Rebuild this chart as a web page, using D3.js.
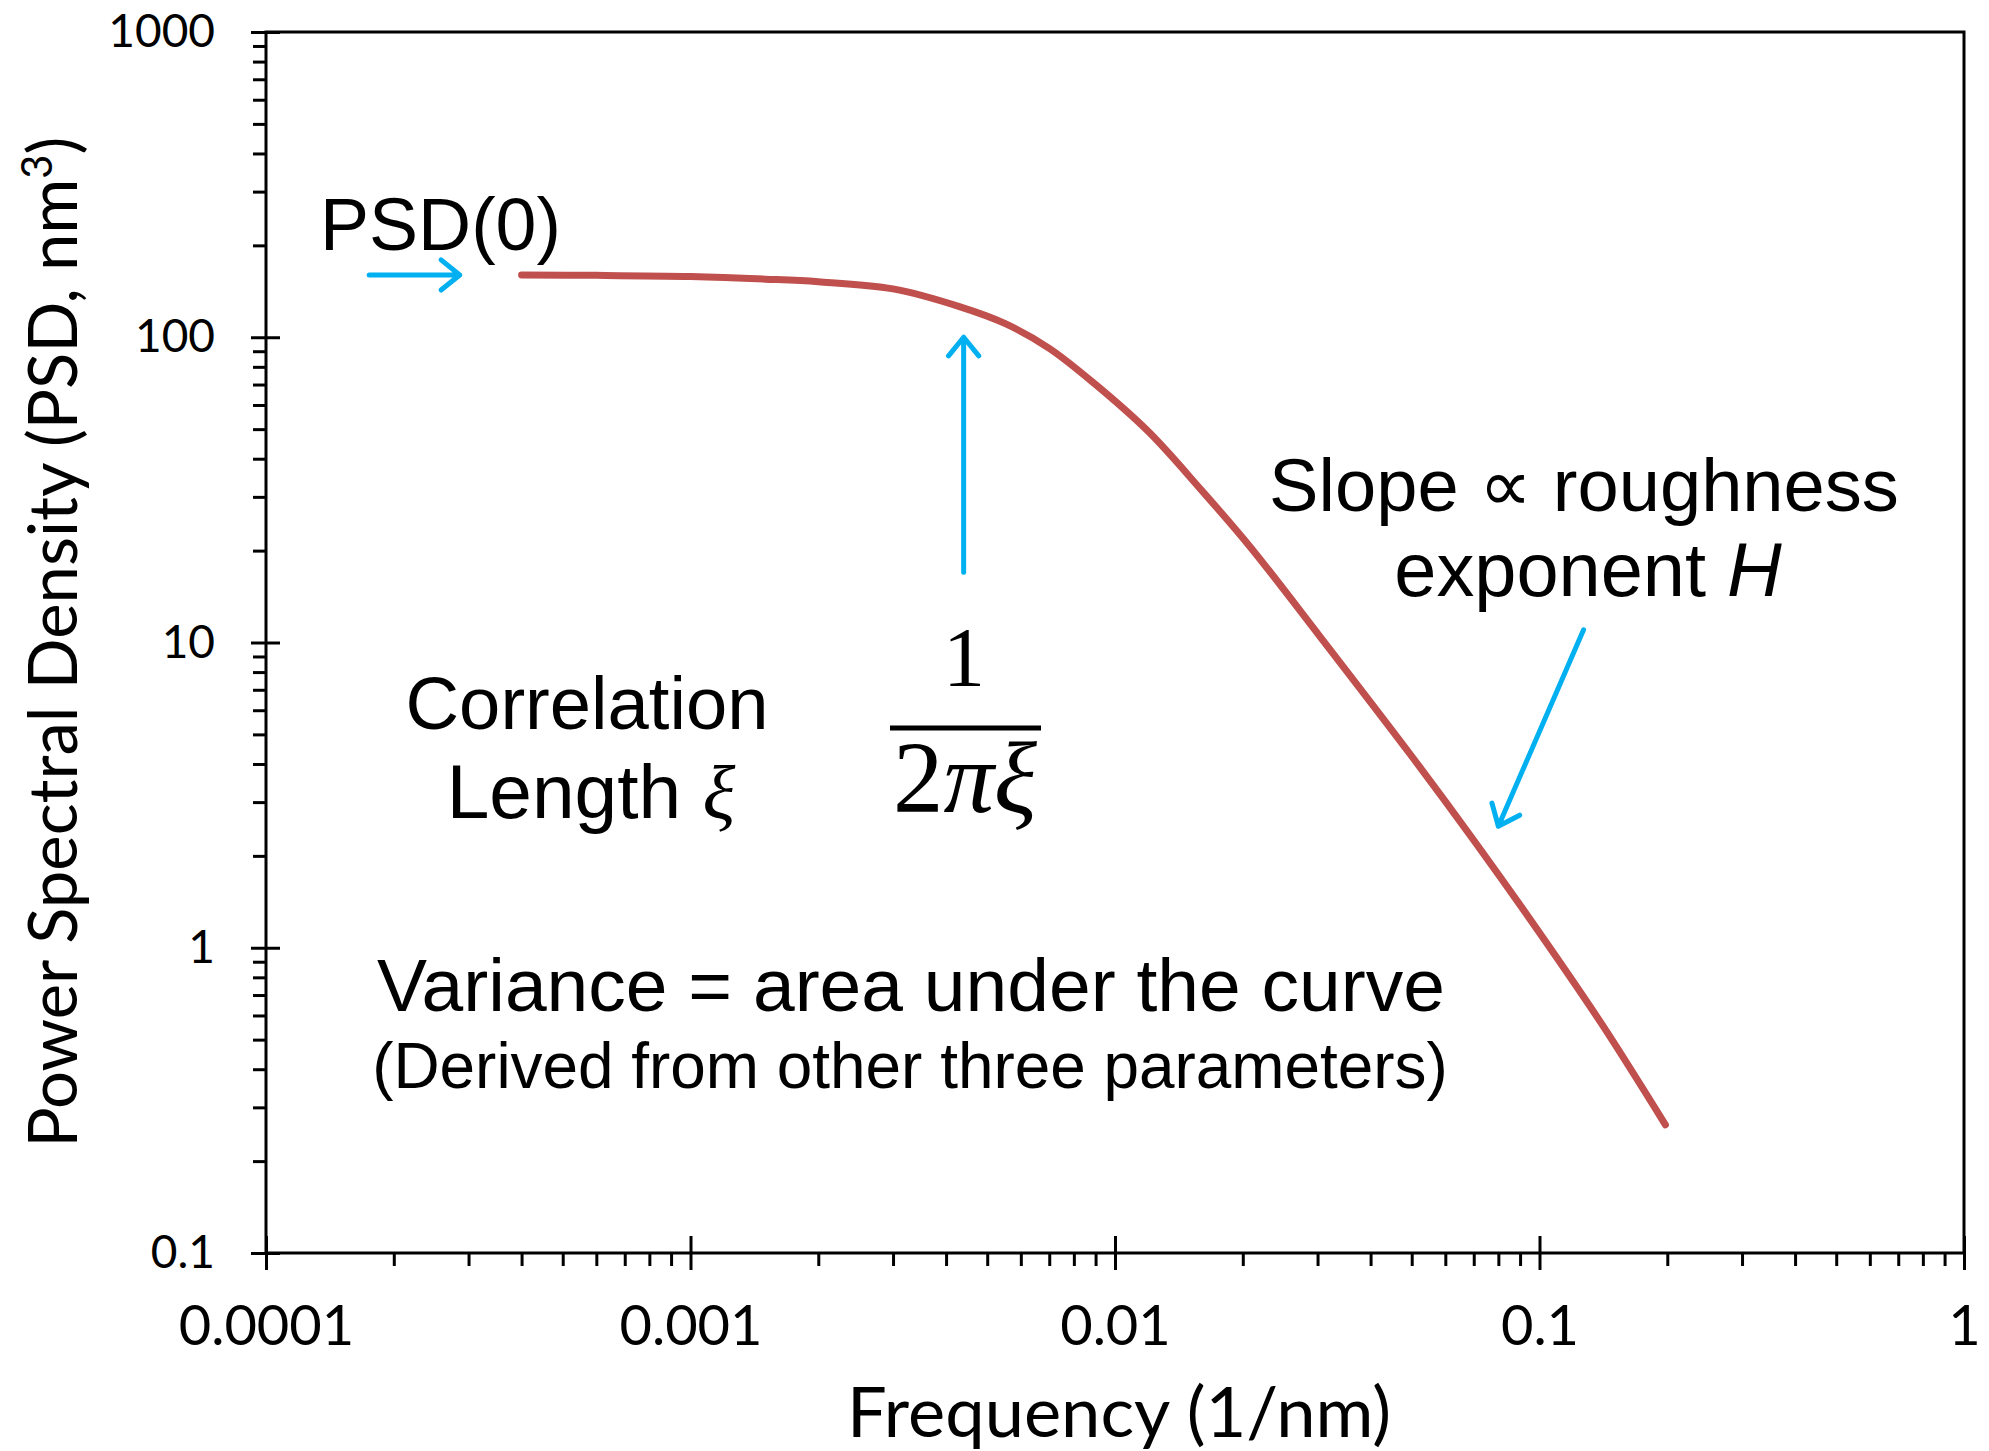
<!DOCTYPE html>
<html>
  <head>
    <meta charset="utf-8" />
    <title>PSD curve</title>
    <script src="https://d3js.org/d3.v7.min.js"></script>
    <style>
      body { margin: 0; background: #fff; }
    </style>
  </head>
  <body>
    <svg id="chart"></svg>
    <script>
      // values
      let freq = [0.0004, 0.0006, 0.001, 0.0015, 0.002, 0.003, 0.0043, 0.0055, 0.007, 0.009,
                  0.012, 0.016, 0.0208, 0.0305, 0.05, 0.07, 0.1, 0.14, 0.198];
      let psd = [160, 159.5, 158, 155, 152, 144, 126, 111, 92, 70,
                 49, 31.5, 20.6, 10.4, 4.24, 2.25, 1.12, 0.564, 0.263];
      let xTicks = [0.0001, 0.001, 0.01, 0.1, 1];
      let xTickLabels = ["0.0001", "0.001", "0.01", "0.1", "1"];
      let yTicks = [0.1, 1, 10, 100, 1000];
      let yTickLabels = ["0.1", "1", "10", "100", "1000"];

      // annotation arrows, in data units [f, psd]
      let psdArrow = [[0.000175, 160], [0.000286, 160]];
      let xiArrow = [[0.0044, 17], [0.0044, 100]];
      let slopeArrow = [[0.127, 11], [0.08, 2.5]];

      let width = 1989;
      let height = 1451;
      let margin = { left: 266, top: 32, right: 25, bottom: 198 };
      let w = width - margin.left - margin.right;
      let h = height - margin.top - margin.bottom;

      let svg = d3.select("#chart").attr("width", width).attr("height", height);
      let g = svg.append("g").attr("transform", `translate(${margin.left},${margin.top})`);

      let x = d3.scaleLog().domain([1e-4, 1]).range([0, w]);
      let y = d3.scaleLog().domain([0.1, 1000]).range([h, 0]);

      function minors(ticks) {
        let out = [];
        for (let i = 0; i < ticks.length - 1; i++)
          for (let k = 2; k < 10; k++) out.push(ticks[i] * k);
        return out;
      }

      function styleAxis(sel) {
        sel.select(".domain").remove();
        sel.selectAll("line").attr("stroke", "#000").attr("stroke-width", 3);
        sel.selectAll("text").attr("font-family", "Lato").attr("fill", "#000");
      }

      // x axis: minor ticks then majors (crossing the axis line)
      g.append("g")
        .attr("transform", `translate(0,${h})`)
        .call(d3.axisBottom(x).tickValues(minors(xTicks)).tickSize(13).tickFormat(""))
        .call(styleAxis);
      g.append("g")
        .attr("transform", `translate(0,${h})`)
        .call(d3.axisBottom(x).tickValues(xTicks).tickSize(17).tickPadding(35)
          .tickFormat((d, i) => xTickLabels[i]))
        .call(styleAxis)
        .call((s) => {
          s.selectAll("line").attr("y1", -17);
          s.selectAll("text").attr("font-size", 56);
        });

      // y axis
      g.append("g")
        .call(d3.axisLeft(y).tickValues(minors(yTicks)).tickSize(13).tickFormat(""))
        .call(styleAxis);
      g.append("g")
        .call(d3.axisLeft(y).tickValues(yTicks).tickSize(15).tickPadding(36)
          .tickFormat((d, i) => yTickLabels[i]))
        .call(styleAxis)
        .call((s) => {
          s.selectAll("line").attr("x1", 14);
          s.selectAll("text").attr("font-size", 46);
        });

      // frame
      g.append("rect")
        .attr("width", w)
        .attr("height", h)
        .attr("fill", "none")
        .attr("stroke", "#000")
        .attr("stroke-width", 3);

      // curve
      let line = d3.line()
        .x((d) => x(d[0]))
        .y((d) => y(d[1]))
        .curve(d3.curveCatmullRom.alpha(0.5));
      g.append("path")
        .datum(freq.map((f, i) => [f, psd[i]]))
        .attr("d", line)
        .attr("fill", "none")
        .attr("stroke", "#C0504D")
        .attr("stroke-width", 7)
        .attr("stroke-linecap", "round")
        .attr("stroke-linejoin", "round");

      // arrows with open heads
      function arrow(pts) {
        let x1 = x(pts[0][0]), y1 = y(pts[0][1]);
        let x2 = x(pts[1][0]), y2 = y(pts[1][1]);
        let a = Math.atan2(y2 - y1, x2 - x1), L = 24, s = 0.68;
        let p = `M${x1},${y1}L${x2},${y2}` +
          `M${x2 - L * Math.cos(a - s)},${y2 - L * Math.sin(a - s)}L${x2},${y2}` +
          `L${x2 - L * Math.cos(a + s)},${y2 - L * Math.sin(a + s)}`;
        g.append("path")
          .attr("d", p)
          .attr("fill", "none")
          .attr("stroke", "#00B0F0")
          .attr("stroke-width", 5)
          .attr("stroke-linecap", "round")
          .attr("stroke-linejoin", "round");
      }
      arrow(psdArrow);
      arrow(xiArrow);
      arrow(slopeArrow);

      // text helper: build text in a group, then scale it to the wanted width
      function label(cx, cy, opts, build) {
        let grp = svg.append("g");
        let t = grp.append("text")
          .attr("text-anchor", opts.anchor || "middle")
          .attr("font-family", opts.family || "Liberation Sans, Arial, sans-serif")
          .attr("font-size", opts.size || 74)
          .attr("fill", "#000");
        build(t);
        let k = opts.fit ? opts.fit / grp.node().getBBox().width : 1;
        grp.attr("transform", `translate(${cx},${cy})` + (opts.rot ? ` rotate(${opts.rot})` : "") + ` scale(${k})`);
        return t;
      }

      let serif = "Liberation Serif, DejaVu Serif, serif";

      // axis titles
      label(1119, 1437, { family: "Lato", size: 60, fit: 544 }, (t) => t.text("Frequency (1/nm)"));
      label(77, 642, { family: "Lato", size: 58, fit: 1011, rot: -90 }, (t) => {
        t.append("tspan").text("Power Spectral Density (PSD, nm");
        t.append("tspan").attr("font-size", 36).attr("dy", -22).text("3");
        t.append("tspan").attr("dy", 22).text(")");
      });

      // annotations
      label(320, 250, { anchor: "start", fit: 241 }, (t) => t.text("PSD(0)"));
      label(587, 729, { fit: 363 }, (t) => t.text("Correlation"));
      label(591, 818, { fit: 289 }, (t) => {
        t.append("tspan").text("Length ");
        t.append("tspan").attr("font-family", serif).attr("font-style", "italic").text("ξ");
      });
      label(1584, 511, { fit: 630 }, (t) => t.text("Slope ∝ roughness"));
      label(1588, 596, { fit: 388 }, (t) => {
        t.append("tspan").text("exponent ");
        t.append("tspan").attr("font-style", "italic").text("H");
      });
      label(911, 1011, { fit: 1068 }, (t) => t.text("Variance = area under the curve"));
      label(910, 1088, { fit: 1076 }, (t) => t.text("(Derived from other three parameters)"));

      // 1 / (2 pi xi)
      label(964, 686, { family: serif, size: 84 }, (t) => t.text("1"));
      label(965, 812, { family: serif, fit: 145, size: 80 }, (t) => {
        t.append("tspan").text("2");
        t.append("tspan").attr("font-style", "italic").text("πξ");
      });
      svg.append("line")
        .attr("x1", 890).attr("x2", 1041)
        .attr("y1", 728).attr("y2", 728)
        .attr("stroke", "#000")
        .attr("stroke-width", 5);
    </script>
  </body>
</html>
